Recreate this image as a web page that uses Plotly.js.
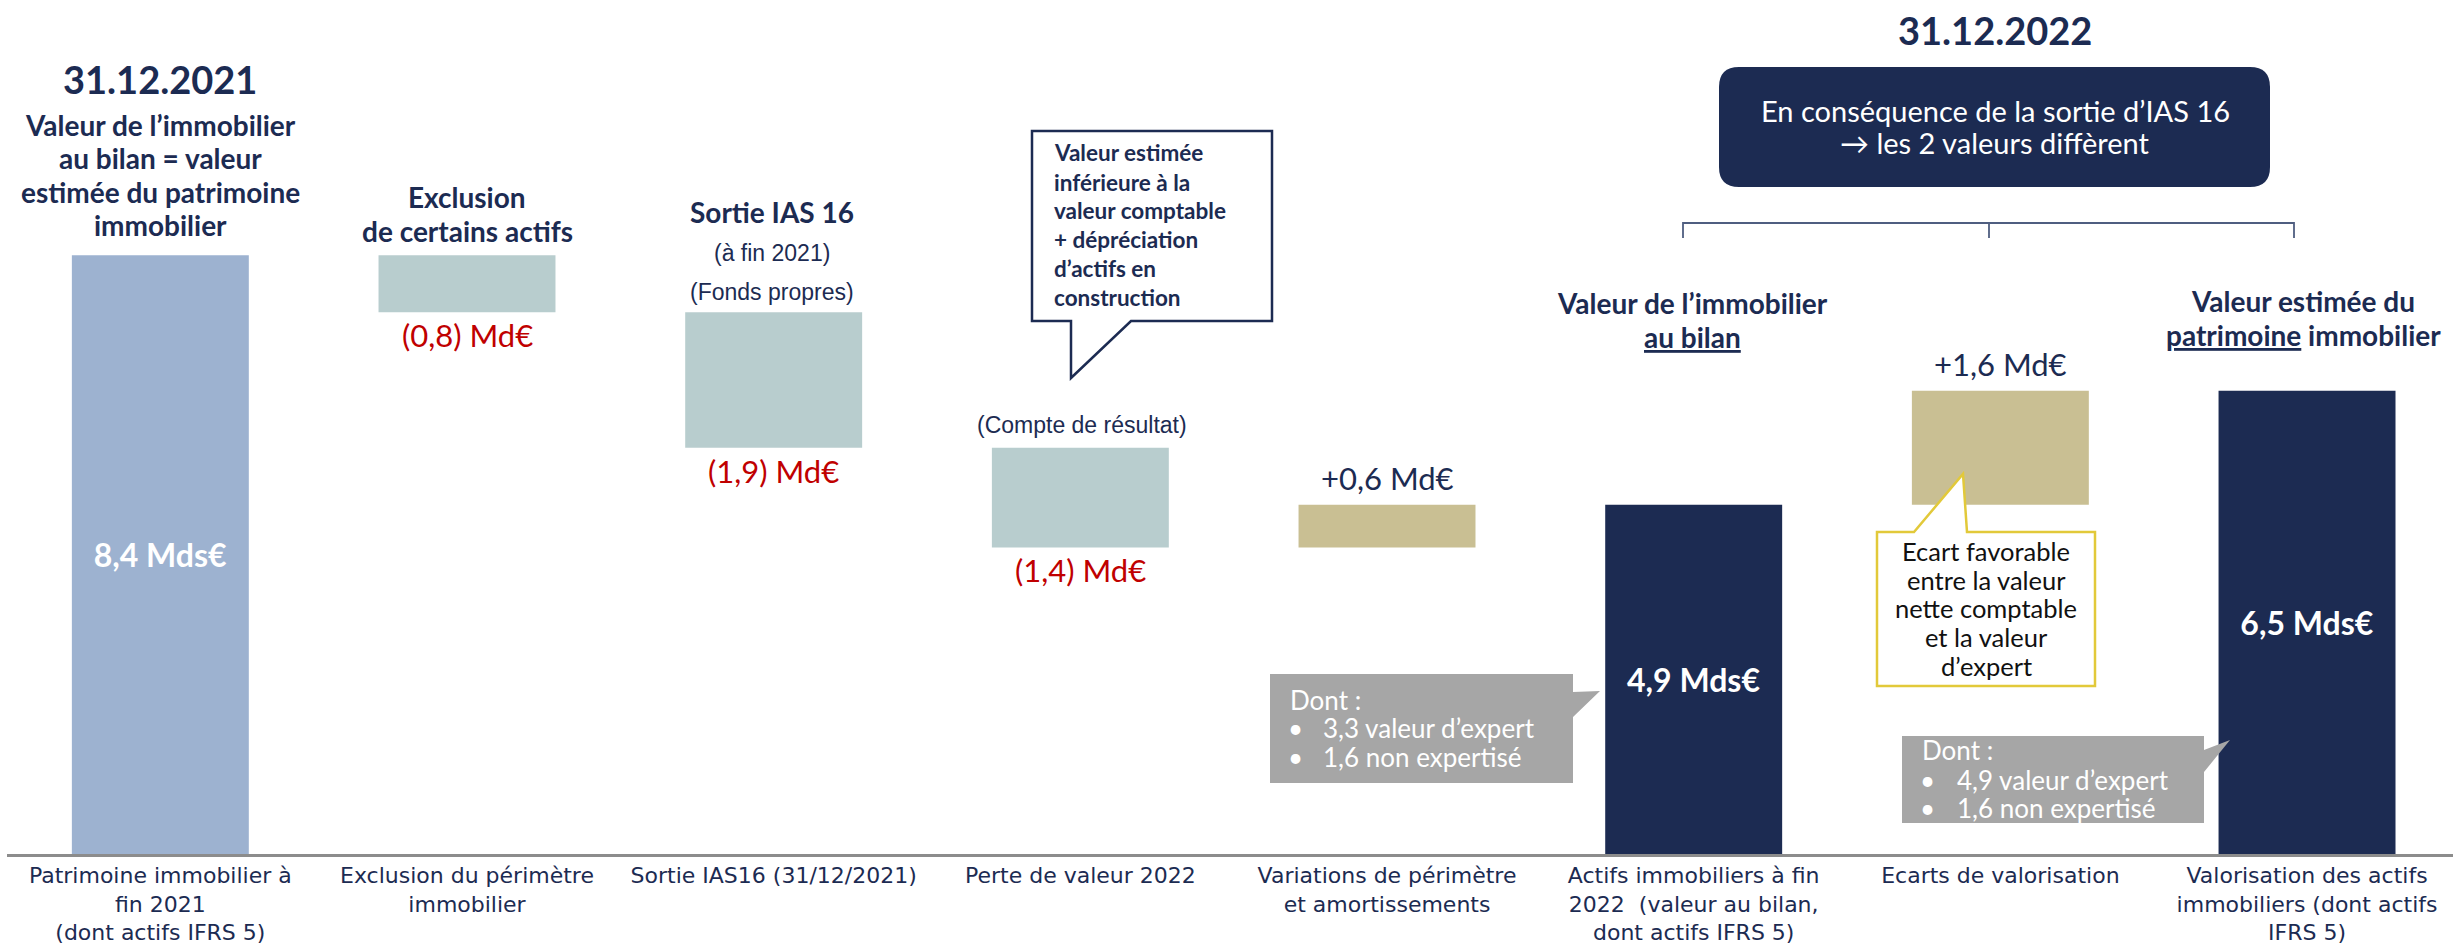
<!DOCTYPE html>
<html>
<head>
<meta charset="utf-8">
<script src="https://cdn.plot.ly/plotly-3.0.1.min.js"></script>
<style>
  html, body { margin: 0; padding: 0; background: #fff; }
  #chart { width: 2453px; height: 947px; }
</style>
</head>
<body>
<div id="chart"></div>
<script>
// ---- data (Md€) ----
const categories = [
  'Patrimoine immobilier à<br>fin 2021<br>(dont actifs IFRS 5)',
  'Exclusion du périmètre<br>immobilier',
  'Sortie IAS16 (31/12/2021)',
  'Perte de valeur 2022',
  'Variations de périmètre<br>et amortissements',
  'Actifs immobiliers à fin<br>2022  (valeur au bilan,<br>dont actifs IFRS 5)',
  'Ecarts de valorisation',
  'Valorisation des actifs<br>immobiliers (dont actifs<br>IFRS 5)'
];
const amounts = [8.4, -0.8, -1.9, -1.4, 0.6, 4.9, 1.6, 6.5];
const measures = ['absolute', 'relative', 'relative', 'relative', 'relative', 'total', 'relative', 'total'];
const amountLabels = ['8,4 Mds€', '(0,8) Md€', '(1,9) Md€', '(1,4) Md€', '+0,6 Md€', '4,9 Mds€', '+1,6 Md€', '6,5 Mds€'];
const split2021 = ['3,3 valeur d’expert', '1,6 non expertisé'];
const split2022 = ['4,9 valeur d’expert', '1,6 non expertisé'];

// ---- colours / fonts ----
const NAVY = '#1c2b52';
const RED = '#c00000';
const COLORS = { start: '#9db2d0', down: '#b8cdce', up: '#c9bf93', total: NAVY };
const FONT = 'Lato, "Open Sans", sans-serif';
const ARIAL = '"Liberation Sans", Arial, sans-serif';
const WIDE = '"DejaVu Sans", Verdana, sans-serif';

// waterfall: bottoms and heights from the running total
let level = 0;
const bases = [], heights = [], colors = [], inside = [];
amounts.forEach((v, i) => {
  const m = measures[i];
  if (m === 'absolute') {
    bases.push(0); heights.push(v); level = v; colors.push(COLORS.start);
  } else if (m === 'total') {
    bases.push(0); heights.push(level); colors.push(COLORS.total);
  } else {
    bases.push(v < 0 ? level + v : level);
    heights.push(Math.abs(v));
    level += v;
    colors.push(v < 0 ? COLORS.down : COLORS.up);
  }
  inside.push(m === 'relative' ? '' : '<b>' + amountLabels[i] + '</b>');
});
const idx = categories.map((_, i) => i);

// plot box in pixels, used to place the free text and callouts
const M = { l: 7, r: 0, t: 0, b: 93 };
const W = 2453 - M.l - M.r, H = 947 - M.t - M.b;
const X = px => (px - M.l) / W;
const Y = py => 1 - (py - M.t) / H;

function note(text, px, py, font, extra) {
  return Object.assign({
    xref: 'paper', yref: 'paper', x: X(px), y: Y(py), text: text,
    showarrow: false, xanchor: 'center', yanchor: 'middle',
    font: Object.assign({ family: FONT, size: 28, color: NAVY }, font)
  }, extra || {});
}
// one annotation per line so the line spacing follows the picture
function lines(arr, px, ys, font, extra) {
  return arr.map((t, i) => note(t, px, ys[i], font, extra));
}
const LEFT = { xanchor: 'left', align: 'left' };

function path(points) {
  return 'M' + points.map(p => X(p[0]) + ',' + Y(p[1])).join(' L') + ' Z';
}

function roundRect(x0, y0, x1, y1, r) {
  const P = (x, y) => X(x) + ',' + Y(y);
  return 'M' + P(x0 + r, y0) + ' L' + P(x1 - r, y0) + ' Q' + P(x1, y0) + ' ' + P(x1, y0 + r) +
    ' L' + P(x1, y1 - r) + ' Q' + P(x1, y1) + ' ' + P(x1 - r, y1) +
    ' L' + P(x0 + r, y1) + ' Q' + P(x0, y1) + ' ' + P(x0, y1 - r) +
    ' L' + P(x0, y0 + r) + ' Q' + P(x0, y0) + ' ' + P(x0 + r, y0) + ' Z';
}

const U = t => '<span style="text-decoration:underline">' + t + '</span>';
const head = { size: 28 };
const grey = { size: 26, color: '#ffffff' };
const arial = { family: ARIAL, size: 23 };

const annotations = [].concat(
  [note('<b>31.12.2021</b>', 160, 79, { size: 38 })],
  lines(['<b>Valeur de l’immobilier</b>', '<b>au bilan = valeur</b>', '<b>estimée du patrimoine</b>', '<b>immobilier</b>'],
    160, [125, 158, 192, 225], head),
  lines(['<b>Exclusion</b>', '<b>de certains actifs</b>'], 467, [197, 231], head),
  [note('<b>Sortie IAS 16</b>', 772, 212, head),
   note('(à fin 2021)', 772, 253, arial),
   note('(Fonds propres)', 772, 292, arial)],
  lines(['<b>Valeur estimée</b>', '<b>inférieure à la</b>', '<b>valeur comptable</b>', '<b>+ dépréciation</b>',
    '<b>d’actifs en</b>', '<b>construction</b>'], 1052, [153, 182, 211, 240, 268, 297], { size: 22.5 }, LEFT),
  [note('(Compte de résultat)', 1082, 425, arial),
   note('<b>31.12.2022</b>', 1995, 30, { size: 38 })],
  lines(['En conséquence de la sortie d’IAS 16', '→ les 2 valeurs diffèrent'], 1995, [110, 143],
    { size: 29, color: '#ffffff' }),
  lines(['<b>Valeur de l’immobilier</b>', '<b>' + U('au bilan') + '</b>'], 1692, [303, 337], head),
  lines(['<b>Valeur estimée du</b>', '<b>' + U('patrimoine') + ' immobilier</b>'], 2303, [301, 335], head),
  lines(['Ecart favorable', 'entre la valeur', 'nette comptable', 'et la valeur', 'd’expert'], 1986,
    [551, 580, 608, 637, 666], { size: 25.5, color: '#111111' }),
  [note('Dont :', 1288, 700, grey, LEFT)],
  lines(['•', '•'], 1295, [728, 757], grey),
  lines(split2021, 1321, [728, 757], grey, LEFT),
  [note('Dont :', 1920, 750, grey, LEFT)],
  lines(['•', '•'], 1927, [780, 808], grey),
  lines(split2022, 1955, [780, 808], grey, LEFT)
);

// change labels: below the bar when negative (red), above when positive
amounts.forEach((v, i) => {
  if (measures[i] !== 'relative') return;
  const neg = v < 0;
  annotations.push({
    xref: 'x', yref: 'y', x: i, y: neg ? bases[i] : bases[i] + heights[i],
    text: amountLabels[i], showarrow: false, xanchor: 'center',
    yanchor: neg ? 'top' : 'bottom', yshift: neg ? -2 : 6,
    font: { family: FONT, size: 31, color: neg ? RED : NAVY }
  });
});

const shapes = [
  // callout above "Perte de valeur"
  { type: 'path', xref: 'paper', yref: 'paper', layer: 'above',
    path: path([[1032, 131], [1272, 131], [1272, 321], [1131, 321], [1071, 378], [1071, 321], [1032, 321]]),
    fillcolor: '#ffffff', line: { color: NAVY, width: 2.5 } },
  // navy rounded box
  { type: 'path', xref: 'paper', yref: 'paper', layer: 'above',
    path: roundRect(1719, 67, 2270, 187, 20), fillcolor: NAVY, line: { width: 0 } },
  // bracket
  { type: 'path', xref: 'paper', yref: 'paper', layer: 'above',
    path: 'M' + X(1683) + ',' + Y(238) + ' L' + X(1683) + ',' + Y(223) + ' L' + X(2294) + ',' + Y(223) +
      ' L' + X(2294) + ',' + Y(238) + ' M' + X(1989) + ',' + Y(223) + ' L' + X(1989) + ',' + Y(238),
    line: { color: '#4f5e80', width: 1.8 } },
  // yellow callout
  { type: 'path', xref: 'paper', yref: 'paper', layer: 'above',
    path: path([[1877, 532], [1914, 532], [1963, 474], [1967, 532], [2095, 532], [2095, 686], [1877, 686]]),
    fillcolor: '#ffffff', line: { color: '#e2c93a', width: 2.5 } },
  // grey callouts
  { type: 'path', xref: 'paper', yref: 'paper', layer: 'above',
    path: path([[1270, 674], [1573, 674], [1573, 692], [1600, 691], [1573, 717], [1573, 783], [1270, 783]]),
    fillcolor: '#a6a6a6', line: { width: 0 } },
  { type: 'path', xref: 'paper', yref: 'paper', layer: 'above',
    path: path([[1902, 736], [2204, 736], [2204, 750], [2230, 740], [2204, 772], [2204, 823], [1902, 823]]),
    fillcolor: '#a6a6a6', line: { width: 0 } }
];

const trace = {
  type: 'bar', x: idx, y: heights, base: bases, width: 0.577,
  marker: { color: colors, line: { width: 0 } },
  text: inside, textposition: 'inside', insidetextanchor: 'middle', constraintext: 'none',
  textfont: { family: FONT, size: 32, color: '#ffffff' },
  hoverinfo: 'skip'
};

const layout = {
  width: 2453, height: 947, margin: M,
  paper_bgcolor: '#ffffff', plot_bgcolor: '#ffffff',
  showlegend: false,
  font: { family: FONT, color: NAVY },
  xaxis: {
    range: [-0.5, 7.476], tickvals: idx, ticktext: categories,
    showgrid: false, zeroline: false, showline: true, linecolor: '#8c8c8c', linewidth: 2.5,
    ticks: '', tickfont: { family: WIDE, size: 22, color: NAVY }, fixedrange: true
  },
  yaxis: { range: [0, 11.98], visible: false, fixedrange: true },
  annotations: annotations,
  shapes: shapes
};

Plotly.newPlot('chart', [trace], layout, { staticPlot: true });
</script>
</body>
</html>
